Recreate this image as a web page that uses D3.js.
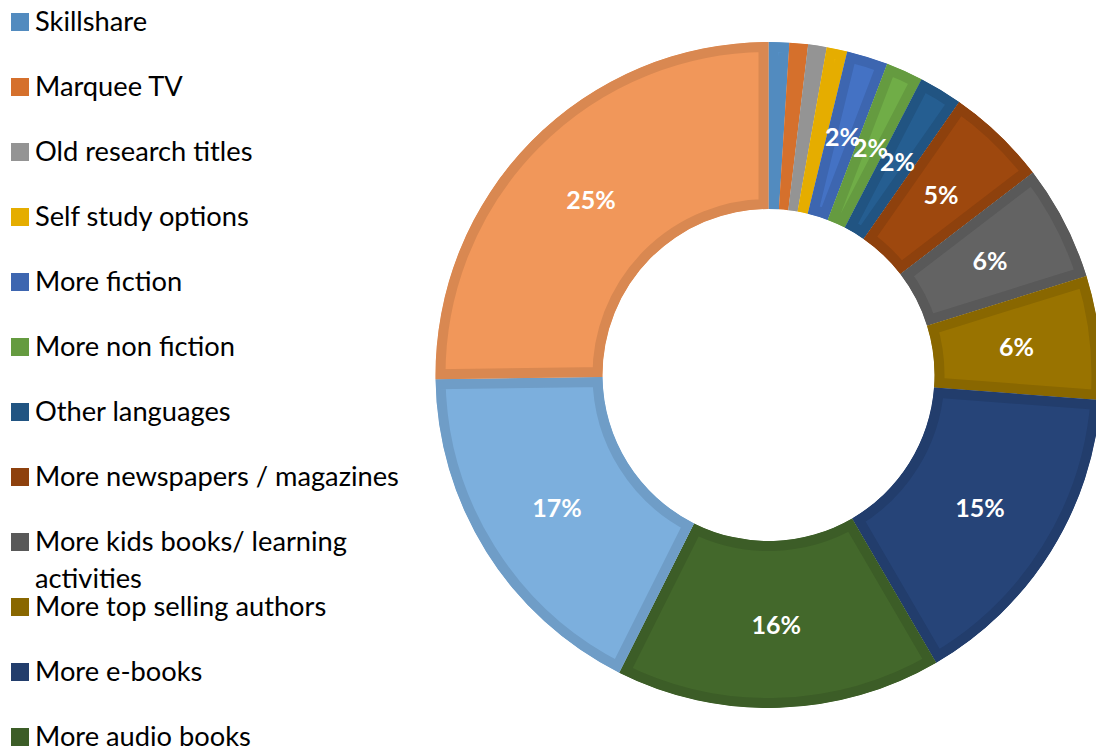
<!DOCTYPE html>
<html>
<head>
<meta charset="utf-8">
<script src="https://cdn.jsdelivr.net/npm/d3@7"></script>
<style>
  html, body { margin: 0; padding: 0; background: #fff; }
  svg { display: block; }
</style>
</head>
<body>
<svg id="chart" width="1096" height="753"></svg>
<script>
// ---- data ----
const categories = [
  "Skillshare", "Marquee TV", "Old research titles", "Self study options",
  "More fiction", "More non fiction", "Other languages",
  "More newspapers / magazines", "More kids books/ learning activities",
  "More top selling authors", "More e-books", "More audio books",
  "More audio book titles", "Other"
];
const values = [1.0, 0.9, 0.9, 1.0, 2.0, 1.8, 2.1, 4.9, 5.6, 6.0, 15.4, 15.8, 17.4, 25.2];
const colors = [
  "#5B9BD5", "#ED7D31", "#A5A5A5", "#FFC000", "#4472C4", "#70AD47",
  "#255E91", "#9E480E", "#636363", "#997300", "#264478", "#43682B",
  "#7CAFDD", "#F1975A"
];

// ---- layout ----
const svg = d3.select("#chart");
const cx = 768.5, cy = 375, R = 333, r0 = 166;
const total = d3.sum(values);

const pie = d3.pie().sort(null).value(d => d.v);
const arc = d3.arc().innerRadius(r0).outerRadius(R);
const labelArc = d3.arc().innerRadius((R + r0) / 2).outerRadius((R + r0) / 2);

const data = categories.map((c, i) => ({ name: c, v: values[i], color: colors[i] }));
const arcs = pie(data);

const defs = svg.append("defs");
arcs.forEach((a, i) => {
  defs.append("clipPath").attr("id", "clip" + i)
    .append("path").attr("d", arc(a)).attr("transform", `translate(${cx},${cy})`);
});

// slices with an inner border (stroke clipped to the slice shape)
const sliceG = svg.append("g");
arcs.forEach((a, i) => {
  sliceG.append("g").attr("clip-path", `url(#clip${i})`)
    .append("path")
    .attr("transform", `translate(${cx},${cy})`)
    .attr("d", arc(a))
    .attr("fill", a.data.color)
    .attr("stroke", d3.color(a.data.color).darker(0.3))
    .attr("stroke-width", 20);
});

// labels
const lg = svg.append("g").attr("transform", `translate(${cx},${cy})`);
lg.selectAll("text")
  .data(arcs.filter(a => a.data.v / total >= 0.015))
  .join("text")
  .attr("transform", d => `translate(${labelArc.centroid(d)})`)
  .attr("text-anchor", "middle")
  .attr("dy", "0.38em")
  .attr("fill", "#fff")
  .attr("font-family", "Lato, 'Open Sans', sans-serif")
  .attr("font-weight", "bold")
  .attr("font-size", 25)
  .text(d => d3.format(".0%")(d.data.v / total));

// ---- legend ----
const leg = svg.append("g");
const fontFam = "Lato, 'Open Sans', sans-serif";
const probe = leg.append("text").attr("font-family", fontFam).attr("font-size", 100)
  .text("More newspapers / magazines");
const pw = probe.node().getComputedTextLength();
probe.remove();
const fs = Math.min(30, 100 * 364 / pw);
const maxW = 380;
const rowH = 65, firstBase = 31, lineH = 37;

data.forEach((d, i) => {
  const base = firstBase + i * rowH;
  leg.append("rect")
    .attr("x", 11).attr("y", base - 18).attr("width", 18).attr("height", 18)
    .attr("fill", d3.color(d.color).darker(0.3));
  const t = leg.append("text")
    .attr("x", 35).attr("y", base)
    .attr("font-family", fontFam).attr("font-size", fs).attr("fill", "#000");
  const words = d.name.split(" ");
  let line = [], lineNo = 0;
  let ts = t.append("tspan").attr("x", 35).attr("y", base);
  words.forEach(w => {
    line.push(w);
    ts.text(line.join(" "));
    if (ts.node().getComputedTextLength() > maxW && line.length > 1) {
      line.pop();
      ts.text(line.join(" "));
      line = [w];
      lineNo++;
      ts = t.append("tspan").attr("x", 35).attr("y", base + lineNo * lineH).text(w);
    }
  });
});
</script>
</body>
</html>
